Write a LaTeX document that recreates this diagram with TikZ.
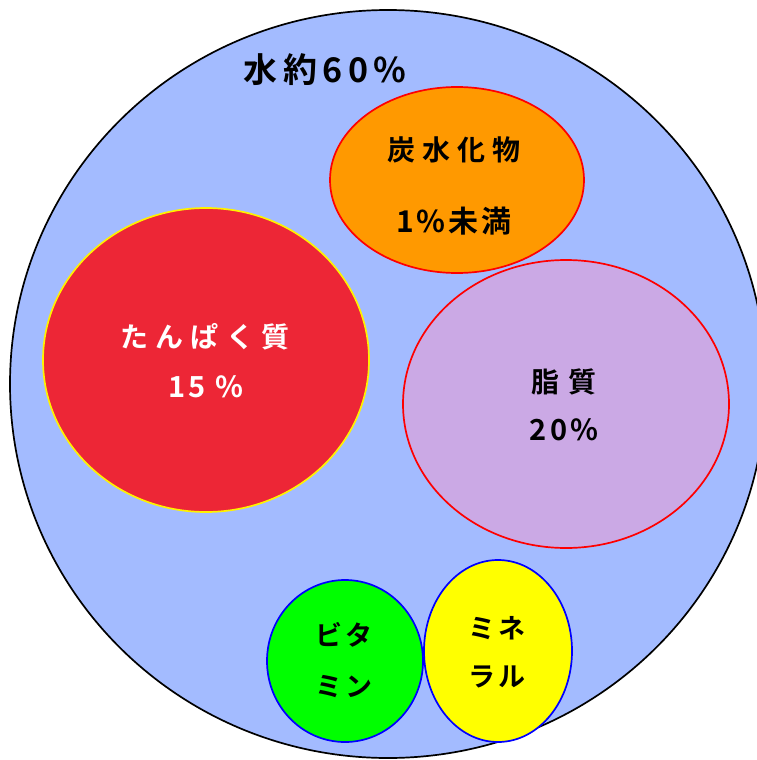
\documentclass[tikz,border=0pt]{standalone}
\usepackage{fontspec}
\setmainfont{Noto Sans CJK JP}[BoldFont={Noto Sans CJK JP Bold}]
\usetikzlibrary{shapes.geometric}
\definecolor{bigblue}{RGB}{163,187,255}
\definecolor{orng}{RGB}{255,153,0}
\definecolor{protred}{RGB}{237,38,54}
\definecolor{lipid}{RGB}{203,169,229}
\definecolor{vgreen}{RGB}{0,255,0}
\definecolor{myellow}{RGB}{255,255,0}
\tikzset{
  blob/.style={line width=1.7pt},
  lbl/.style={inner sep=0pt, anchor=center},
}
\newcommand{\jfont}[2]{\bfseries\fontsize{#1}{#1}\selectfont\addfontfeature{LetterSpace=#2}}
\begin{document}
\begin{tikzpicture}[x=1pt,y=-1pt]
\useasboundingbox (0,0) rectangle (757,760);
\begin{scope}
\clip (0,0) rectangle (757,760);
\draw[fill=bigblue, line width=1.7pt] (388,384) ellipse [x radius=378, y radius=374];
\end{scope}
\node[lbl, font=\jfont{34}{16}] (water) at (325,70) {水約60\%};
\draw[blob, fill=orng, draw=red] (457,180) ellipse [x radius=127, y radius=93];
\node[lbl, font=\jfont{28}{26}] (carb1) at (454,150) {炭水化物};
\node[lbl, font=\jfont{30}{10}] (carb2) at (454,221) {1\%未満};
\draw[blob, fill=protred, draw=yellow] (206,360) ellipse [x radius=163, y radius=152];
\node[lbl, text=white, font=\jfont{28}{26}] (prot1) at (205,337) {たんぱく質};
\node[lbl, text=white, font=\jfont{29}{10}] (prot2) at (206,387) {15 \%};
\draw[blob, fill=lipid, draw=red] (566,404) ellipse [x radius=163, y radius=144];
\node[lbl, font=\jfont{28}{30}] (lip1) at (564,382) {脂質};
\node[lbl, font=\jfont{29}{12}] (lip2) at (564,430) {20\%};
\draw[blob, fill=vgreen, draw=blue] (345,661) ellipse [x radius=78, y radius=81];
\node[lbl, font=\jfont{27}{14}] (vit1) at (344,635) {ビタ};
\node[lbl, font=\jfont{27}{14}] (vit2) at (344,687) {ミン};
\draw[blob, fill=myellow, draw=blue] (498,651) ellipse [x radius=74, y radius=91];
\node[lbl, font=\jfont{27}{14}] (min1) at (497,628) {ミネ};
\node[lbl, font=\jfont{27}{14}] (min2) at (497,677) {ラル};
\end{tikzpicture}
\end{document}
